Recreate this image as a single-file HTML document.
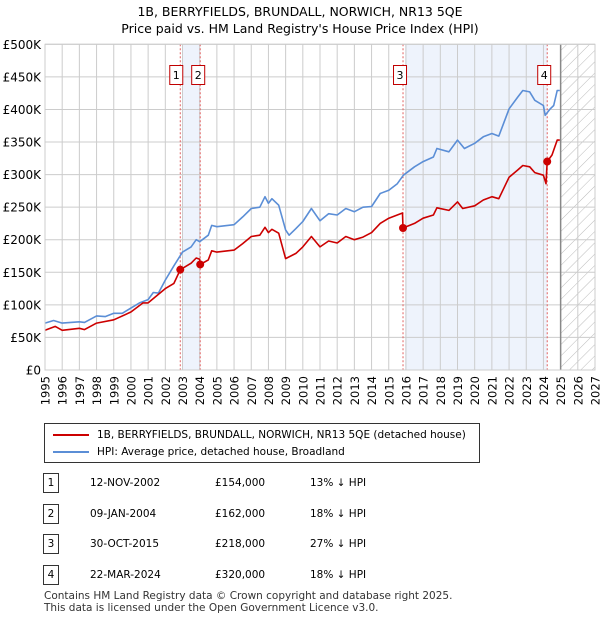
<!DOCTYPE html>
<html><head><meta charset="utf-8"><style>
body{margin:0;background:#fff;font-family:"DejaVu Sans","Liberation Sans",sans-serif;}
#wrap{position:relative;width:600px;height:620px;overflow:hidden}
.t{position:absolute;font-size:12px;color:#000}
</style></head><body><div id="wrap">
<div class="t" style="left:0;width:600px;top:3px;text-align:center;font-size:12.5px;line-height:17px">1B, BERRYFIELDS, BRUNDALL, NORWICH, NR13 5QE<br>Price paid vs. HM Land Registry's House Price Index (HPI)</div>
<svg id="chart" width="600" height="420" style="position:absolute;left:0;top:0">
<defs><pattern id="hatch" width="8" height="8" patternUnits="userSpaceOnUse" patternTransform="rotate(45)"><line x1="0" y1="0" x2="0" y2="8" stroke="#bbb" stroke-width="1"/></pattern></defs>
</svg>
<div style="position:absolute;left:44px;top:423px;width:434px;height:38px;border:1px solid #333;font-size:10.5px">
<div style="position:absolute;left:8px;top:5px"><span style="display:inline-block;width:36px;border-top:2px solid #cc0000;vertical-align:middle;margin-right:8px"></span>1B, BERRYFIELDS, BRUNDALL, NORWICH, NR13 5QE (detached house)</div>
<div style="position:absolute;left:8px;top:22px"><span style="display:inline-block;width:36px;border-top:2px solid #5b8ed6;vertical-align:middle;margin-right:8px"></span>HPI: Average price, detached house, Broadland</div>
</div>
<div id="table"></div>
<div class="t" style="left:44px;top:590px;font-size:10.5px;line-height:12px;color:#333">Contains HM Land Registry data © Crown copyright and database right 2025.<br>This data is licensed under the Open Government Licence v3.0.</div>
</div>
<script>
const hpiYears=[1995,1995.5,1996,1997,1997.3,1998,1998.5,1999,1999.5,2000,2000.5,2001,2001.3,2001.6,2002,2002.5,2003,2003.5,2003.8,2004,2004.5,2004.7,2005,2006,2006.5,2007,2007.5,2007.8,2008,2008.2,2008.6,2009,2009.2,2009.6,2010,2010.5,2011,2011.5,2012,2012.5,2013,2013.5,2014,2014.5,2015,2015.5,2015.85,2016.5,2017,2017.6,2017.8,2018.5,2019,2019.4,2020,2020.5,2021,2021.4,2022,2022.5,2022.8,2023.2,2023.5,2024,2024.1,2024.4,2024.6,2024.8,2024.95];
const hpiValues=[72,76,72,74,73,83,82,87,87,95,103,108,119,118,138,160,181,189,200,197,207,222,220,223,235,248,250,266,256,263,253,215,207,217,228,248,229,240,238,248,243,250,251,271,276,286,299,312,320,327,340,335,353,340,348,358,363,359,401,419,429,427,414,406,391,401,406,429,429];
const priceYears=[1995,1995.6,1996,1997,1997.3,1998,1999,2000,2000.7,2001,2002,2002.5,2002.87,2003.5,2003.8,2004.0,2004.03,2004.5,2004.7,2005,2006,2006.5,2007,2007.5,2007.8,2008,2008.2,2008.6,2009,2009.6,2010,2010.5,2011,2011.5,2012,2012.5,2013,2013.5,2014,2014.5,2015,2015.8,2015.83,2016.5,2017,2017.6,2017.8,2018.5,2019,2019.3,2020,2020.5,2021,2021.4,2022,2022.5,2022.8,2023.2,2023.5,2024,2024.15,2024.22,2024.5,2024.8,2024.95];
const priceValues=[61,67,61,64,62,72,77,89,103,103,125,133,154,164,172,170,162,169,183,181,184,194,205,207,219,211,216,210,171,179,189,205,189,198,195,205,200,204,211,225,233,241,218,225,233,238,249,245,258,248,252,261,266,263,296,307,314,312,303,299,286,320,330,353,353];
const saleIds=["1","2","3","4"];
const saleYears=[2002.87,2004.03,2015.83,2024.22];
const saleDates=["12-NOV-2002","09-JAN-2004","30-OCT-2015","22-MAR-2024"];
const salePrices=[154,162,218,320];
const saleHpiText=["13% ↓ HPI","18% ↓ HPI","27% ↓ HPI","18% ↓ HPI"];
const yTicks=[0,50,100,150,200,250,300,350,400,450,500];
const yTickLabels=["£0","£50K","£100K","£150K","£200K","£250K","£300K","£350K","£400K","£450K","£500K"];
const xTicks=[1995,1996,1997,1998,1999,2000,2001,2002,2003,2004,2005,2006,2007,2008,2009,2010,2011,2012,2013,2014,2015,2016,2017,2018,2019,2020,2021,2022,2023,2024,2025,2026,2027];

const L=45,R=595,T=44.3,B=370,X0=1995,X1=2027;
const x=v=>L+(v-X0)/(X1-X0)*(R-L);
const y=v=>B-v/500*(B-T);
const svg=document.getElementById('chart');
const NS='http://www.w3.org/2000/svg';
const FF='DejaVu Sans, Liberation Sans, sans-serif';
function mk(tag,attrs,parent){const e=document.createElementNS(NS,tag);for(const k in attrs)e.setAttribute(k,attrs[k]);(parent||svg).appendChild(e);return e;}

let r=mk('rect',{x:x(saleYears[0])+2,y:T,width:x(saleYears[1])-x(saleYears[0])-2,height:B-T,fill:'#eef3fc'});


r=mk('rect',{x:x(saleYears[2])+2,y:T,width:x(saleYears[3])-x(saleYears[2])-2,height:B-T,fill:'#eef3fc'});


r=mk('rect',{x:x(2025),y:T,width:R-x(2025),height:B-T,fill:'url(#hatch)'});



xTicks.forEach(t=>{
 const l=mk('line',{x1:x(t),x2:x(t),y1:T,y2:B,stroke:'#cccccc','stroke-width':1});
 
 
 const tx=mk('text',{x:0,y:0,transform:`translate(${x(t)+4.5},${B+6}) rotate(-90)`,'text-anchor':'end','font-size':11.5,'font-family':FF});
 tx.textContent=t;
 
 
});
yTicks.forEach((t,i)=>{
 const l=mk('line',{x1:L,x2:R,y1:y(t),y2:y(t),stroke:'#cccccc','stroke-width':1});
 
 
 const tx=mk('text',{x:L-4,y:y(t)+4.5,'text-anchor':'end','font-size':12,'font-family':FF});
 tx.textContent=yTickLabels[i];
 
 
});
let vl=mk('line',{x1:x(2025),x2:x(2025),y1:T,y2:B,stroke:'#888','stroke-width':1.5});



saleYears.forEach((s,i)=>{
 const l=mk('line',{x1:x(s),x2:x(s),y1:T,y2:B,stroke:'#e06060','stroke-width':1,'stroke-dasharray':'2,2'});
 
 
 const g=mk('g',{});
 
 
 const w=13,h=19,cx=i==0?x(s)-4:(i==1?x(s)-2:x(s)-3);
 mk('rect',{x:cx-w/2,y:65.5,width:w,height:h,fill:'#fff',stroke:'#c00000','stroke-width':1},g);
 const tt=mk('text',{x:cx,y:79,'text-anchor':'middle','font-size':11,'font-family':FF},g);
 tt.textContent=saleIds[i];
});

function path(xs,vs,col,name){
 const d=xs.map((v,i)=>(i?'L':'M')+x(v).toFixed(1)+','+y(vs[i]).toFixed(1)).join('');
 const p=mk('path',{d:d,fill:'none',stroke:col,'stroke-width':1.6,'stroke-linejoin':'round'});
 
 
}
path(hpiYears,hpiValues,'#5b8ed6','hpi-line');
path(priceYears,priceValues,'#cc0000','price-paid-line');
saleYears.forEach((s,i)=>{
 const c=mk('circle',{cx:x(s),cy:y(salePrices[i]),r:4,fill:'#cc0000'});
 
 
});
let ax=mk('rect',{x:L,y:T,width:R-L,height:B-T,fill:'none',stroke:'#cccccc'});



const tb=document.getElementById('table');
saleIds.forEach((id,i)=>{
 const row=document.createElement('div');
 
 
 row.style.cssText=`position:absolute;left:0;top:${473+i*30.7}px;width:600px;height:20px;font-size:10.5px`;
 row.innerHTML=`<span style="position:absolute;left:43px;top:0;width:14px;height:18px;border:1px solid #333;text-align:center;line-height:18px">${id}</span>`+
 `<span style="position:absolute;left:90px;top:4px">${saleDates[i]}</span>`+
 `<span style="position:absolute;left:215px;top:4px">£${salePrices[i]},000</span>`+
 `<span style="position:absolute;left:310px;top:4px">${saleHpiText[i]}</span>`;
 tb.appendChild(row);
});
</script>
</body></html>
